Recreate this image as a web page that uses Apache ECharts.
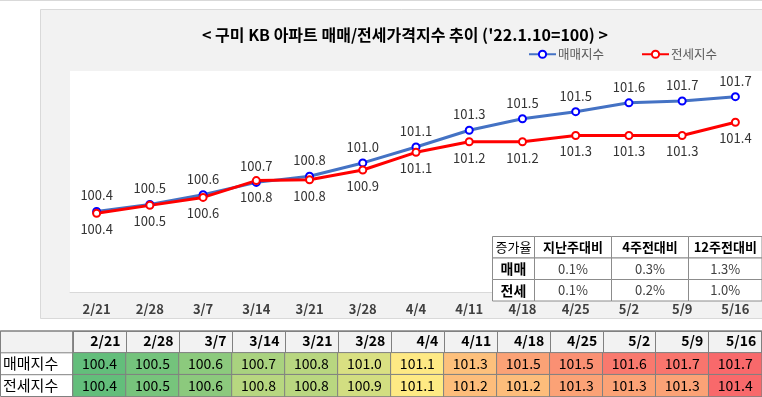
<!DOCTYPE html>
<html>
<head>
<meta charset="utf-8">
<script src="https://cdn.jsdelivr.net/npm/echarts@6/dist/echarts.min.js"></script>
<style>
html, body { margin: 0; padding: 0; background: #fff; }
#main { width: 762px; height: 397px; }
</style>
</head>
<body>
<div id="main"></div>
<script>
// 주간 기준일
var weeks = ["2/21", "2/28", "3/7", "3/14", "3/21", "3/28", "4/4", "4/11", "4/18", "4/25", "5/2", "5/9", "5/16"];
// 매매지수 / 전세지수 ('22.1.10=100)
var saleIdx = [100.41, 100.49, 100.60, 100.74, 100.81, 100.96, 101.14, 101.33, 101.46, 101.54, 101.64, 101.66, 101.71];
var jeonseIdx = [100.39, 100.48, 100.57, 100.76, 100.77, 100.88, 101.08, 101.20, 101.20, 101.27, 101.27, 101.27, 101.42];
var rowNames = ["매매지수", "전세지수"];
// 증가율 표
var rateCols = ["증가율", "지난주대비", "4주전대비", "12주전대비"];
var rateRows = ["매매", "전세"];
var saleRate = ["0.1%", "0.3%", "1.3%"];
var jeonseRate = ["0.1%", "0.2%", "1.0%"];

var FONT = "'Noto Sans CJK KR', 'Noto Sans', sans-serif";

// 엑셀 3색 스케일 (녹색-노랑-빨강)
var GREEN = [99, 190, 123], YELLOW = [255, 235, 132], RED = [248, 105, 107];
function mix(a, b, t) {
  return "rgb(" + [0, 1, 2].map(function (k) { return Math.round(a[k] + (b[k] - a[k]) * t); }).join(",") + ")";
}
function colorScale(vals) {
  var s = vals.slice().sort(function (a, b) { return a - b; });
  var lo = s[0], hi = s[s.length - 1], mid = s[Math.floor(s.length / 2)];
  var out = [];
  for (var i = 0; i <= 60; i++) {
    var v = lo + (hi - lo) * i / 60;
    out.push(v <= mid ? mix(GREEN, YELLOW, (v - lo) / (mid - lo)) : mix(YELLOW, RED, (v - mid) / (hi - mid)));
  }
  return { min: lo, max: hi, color: out };
}
var saleScale = colorScale(saleIdx);
var jeonseScale = colorScale(jeonseIdx);

// 증가율 표 (그래픽)
var colX = [492.5, 534.5, 611.5, 688.5, 762];
var rowY = [236.5, 258, 279.5, 301];
var tableRows = [rateCols, [rateRows[0]].concat(saleRate), [rateRows[1]].concat(jeonseRate)];
var tableEls = [];
tableRows.forEach(function (row, r) {
  row.forEach(function (txt, c) {
    var bold = (r === 0 && c > 0) || (r > 0 && c === 0);
    tableEls.push({
      type: "rect", z: 100,
      shape: { x: colX[c], y: rowY[r], width: colX[c + 1] - colX[c], height: rowY[r + 1] - rowY[r] },
      style: { fill: "#fff", stroke: "#8c8c8c", lineWidth: 1 }
    });
    tableEls.push({
      type: "text", z: 101,
      x: (colX[c] + colX[c + 1]) / 2, y: (rowY[r] + rowY[r + 1]) / 2,
      style: {
        text: txt, align: "center", verticalAlign: "middle", fontFamily: FONT,
        fontSize: (r > 0 && c === 0) ? 14 : 13, fontWeight: bold ? "bold" : "normal",
        fill: (r > 0 && c > 0) ? "#404040" : "#000"
      }
    });
  });
});

var myChart = echarts.init(document.getElementById("main"));

var option = {
  animation: false,
  textStyle: { fontFamily: FONT },
  title: {
    text: "< 구미 KB 아파트 매매/전세가격지수 추이 ('22.1.10=100) >",
    left: 202, top: 27, padding: 0,
    textStyle: { fontSize: 16, fontWeight: "bold", color: "#000", fontFamily: FONT }
  },
  legend: {
    left: 528, top: 48, padding: 0, itemGap: 37, itemWidth: 27, itemHeight: 9,
    textStyle: { fontSize: 12.5, color: "#595959", fontFamily: FONT, padding: [0, 0, 0, -3] },
    data: ["매매지수", "전세지수"]
  },
  graphic: [
    { type: "line", z: -2, shape: { x1: 0, y1: 0.5, x2: 762, y2: 0.5 }, style: { stroke: "#d9d9d9", lineWidth: 1 } },
    { type: "rect", z: -2, shape: { x: 40.5, y: 9.5, width: 740, height: 309 }, style: { fill: "#f2f2f2", stroke: "#d9d9d9", lineWidth: 1 } },
    { type: "rect", z: -2, shape: { x: 0, y: 331, width: 762, height: 21.8 }, style: { fill: "#f2f2f2" } },
    { type: "rect", z: -1, shape: { x: 0.5, y: 331, width: 72.2, height: 65.5 }, style: { fill: "none", stroke: "#808080", lineWidth: 1 } },
    { type: "line", z: -1, shape: { x1: 0, y1: 331, x2: 762, y2: 331 }, style: { stroke: "#808080", lineWidth: 1 } },
    { type: "line", z: -1, shape: { x1: 0, y1: 352.8, x2: 72.7, y2: 352.8 }, style: { stroke: "#808080", lineWidth: 1 } },
    { type: "line", z: -1, shape: { x1: 0, y1: 374.7, x2: 72.7, y2: 374.7 }, style: { stroke: "#808080", lineWidth: 1 } }
  ].concat(tableEls),
  grid: [
    { left: 70, top: 71, width: 698, height: 221, show: true, backgroundColor: "#fff", borderWidth: 0 },
    { left: 72.7, top: 331, width: 689, height: 65.5, show: true, borderColor: "#808080", borderWidth: 1 }
  ],
  xAxis: [
    {
      type: "category", gridIndex: 0, data: weeks,
      axisLine: { lineStyle: { color: "#d9d9d9" } },
      axisTick: { length: 4, lineStyle: { color: "#d9d9d9" } },
      axisLabel: { interval: 0, margin: 11, fontSize: 13, fontWeight: "bold", color: "#404040", fontFamily: FONT }
    },
    {
      type: "category", gridIndex: 1, data: weeks, position: "top",
      axisLine: { show: false }, axisTick: { show: false },
      splitLine: { show: true, interval: 0, lineStyle: { color: "#808080" } },
      axisLabel: {
        inside: true, interval: 0, margin: 3,
        formatter: function (v) { return "{h|" + v + "}"; },
        rich: { h: { width: 42, align: "right", fontSize: 14, fontWeight: "bold", color: "#000", fontFamily: FONT } }
      }
    }
  ],
  yAxis: [
    { type: "value", gridIndex: 0, min: 99.5, max: 102, show: false },
    {
      type: "category", gridIndex: 1, inverse: true, data: [""].concat(rowNames),
      axisLine: { show: false }, axisTick: { show: false },
      splitLine: { show: true, interval: 0, lineStyle: { color: "#808080" } },
      axisLabel: { interval: 0, align: "left", margin: 70, fontSize: 15, color: "#000", fontFamily: FONT }
    }
  ],
  visualMap: [
    { type: "continuous", show: false, seriesIndex: 2, dimension: 2, min: saleScale.min, max: saleScale.max, inRange: { color: saleScale.color } },
    { type: "continuous", show: false, seriesIndex: 3, dimension: 2, min: jeonseScale.min, max: jeonseScale.max, inRange: { color: jeonseScale.color } }
  ],
  series: [
    {
      name: "매매지수", type: "line", data: saleIdx,
      symbol: "emptyCircle", symbolSize: 7,
      lineStyle: { color: "#4472c4", width: 3 },
      itemStyle: { color: "#0000ff", borderWidth: 1.5 },
      label: { show: true, position: "top", fontSize: 13, color: "#333", fontFamily: FONT,
        formatter: function (p) { return p.value.toFixed(1); } }
    },
    {
      name: "전세지수", type: "line", data: jeonseIdx,
      symbol: "emptyCircle", symbolSize: 7,
      lineStyle: { color: "#ff0000", width: 3 },
      itemStyle: { color: "#ff0000", borderWidth: 1.5 },
      label: { show: true, position: "bottom", fontSize: 13, color: "#333", fontFamily: FONT,
        formatter: function (p) { return p.value.toFixed(1); } }
    },
    {
      name: "매매표", type: "heatmap", xAxisIndex: 1, yAxisIndex: 1,
      data: saleIdx.map(function (v, i) { return [i, 1, v]; }),
      itemStyle: { borderColor: "#808080", borderWidth: 1 },
      label: { show: true, fontSize: 14, color: "#000", fontFamily: FONT,
        formatter: function (p) { return p.value[2].toFixed(1); } }
    },
    {
      name: "전세표", type: "heatmap", xAxisIndex: 1, yAxisIndex: 1,
      data: jeonseIdx.map(function (v, i) { return [i, 2, v]; }),
      itemStyle: { borderColor: "#808080", borderWidth: 1 },
      label: { show: true, fontSize: 14, color: "#000", fontFamily: FONT,
        formatter: function (p) { return p.value[2].toFixed(1); } }
    }
  ]
};

myChart.setOption(option);
</script>
</body>
</html>
